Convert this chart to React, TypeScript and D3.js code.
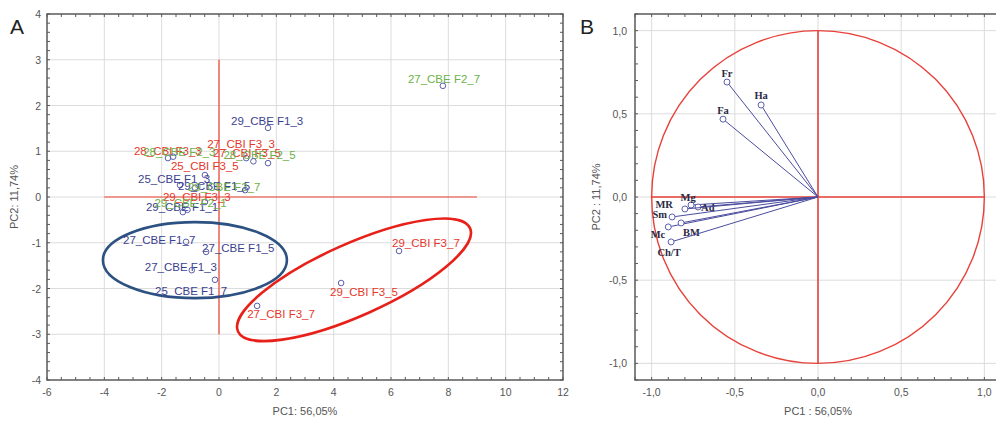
import * as d3 from "d3";

// ---- panel A: sample scores ----
const sampleNames = [
  "27_CBE F2_7", "29_CBE F1_3", "29_CBI F3_7", "29_CBI F3_5", "27_CBI F3_7",
  "25_CBE F1_7", "27_CBE F1_3", "27_CBE F1_7", "27_CBE F1_5",
  "28_CBI F3_3", "28_CBE F2_3", "27_CBI F3_3", "27_CBI F3_5", "28_CBE F2_5",
  "25_CBI F3_5", "25_CBE F1_3", "29_CBE F1_5", "29_CBE F2_7", "29_CBI F3_3",
  "29_CBE F1_1", "29_CBE F2_1",
];
const pc1Scores = [
  7.81, 1.71, 6.28, 4.26, 1.33,
  -0.14, -0.95, -1.15, -0.45,
  -1.78, -1.6, 0.95, 1.71, 1.2,
  -0.49, -1.36, -0.84, 0.91, -0.49,
  -1.26, -1.1,
];
const pc2Scores = [
  2.43, 1.51, -1.18, -1.88, -2.38,
  -1.81, -1.6, -0.98, -1.2,
  0.85, 0.88, 0.85, 0.74, 0.78,
  0.48, 0.26, 0.2, 0.15, -0.11,
  -0.33, -0.28,
];
const sampleGroups = [
  "F2", "CBE", "CBI", "CBI", "CBI",
  "CBE", "CBE", "CBE", "CBE",
  "CBI", "F2", "CBI", "CBI", "F2",
  "CBI", "CBE", "CBE", "F2", "CBI",
  "CBE", "F2",
];
const xTicksA = [-6, -4, -2, 0, 2, 4, 6, 8, 10, 12];
const yTicksA = [-4, -3, -2, -1, 0, 1, 2, 3, 4];

// ---- panel B: variable loadings ----
const variableNames = ["Fr", "Ha", "Fa", "Mg", "Ad", "MR", "Sm", "Mc", "BM", "Ch/T"];
const load1 = [-0.547, -0.342, -0.571, -0.763, -0.721, -0.8, -0.877, -0.9, -0.823, -0.883];
const load2 = [0.691, 0.553, 0.468, -0.048, -0.06, -0.072, -0.12, -0.18, -0.156, -0.27];
const ticksB = [-1, -0.5, 0, 0.5, 1];
const tickLabelsB = ["-1,0", "-0,5", "0,0", "0,5", "1,0"];

// label placement (px offsets from marker)
const sampleLabelOffsets: [number, number][] = [
  [-35, -3], [-37, -3], [-7, -4], [-11, 13], [-10, 12],
  [-60, 15], [-47, 1], [-63, 2], [-4, 0],
  [-34, -3], [-30, -1], [-39, -10], [-55, -6], [-30, -2],
  [-34, -5], [-42, -2], [-17, 2], [-57, 1], [-42, -1],
  [-37, -1], [-33, -3],
];
const varLabelPos: [number, number, string][] = [
  [0, -5, "middle"], [0, -6, "middle"], [0, -5, "middle"], [-3, -4, "middle"],
  [3, 4, "start"], [-12, -1, "end"], [-5, 1, "end"], [-3, 11, "end"],
  [2, 13, "start"], [-2, 14, "middle"],
];

const groupColor: Record<string, string> = { CBE: "#3b3f8f", CBI: "#e5372c", F2: "#6cb24a" };
const gridCol = "#dcdcdc";
const frameCol = "#5a5a5a";
const tickFont = "Liberation Sans, Arial, sans-serif";

export default function App() {
  const W = 996, H = 426;

  const xA = d3.scaleLinear().domain([-6, 12]).range([47, 563]);
  const yA = d3.scaleLinear().domain([-4, 4]).range([380, 14]);

  const xB = d3.scaleLinear().domain([-1.1, 1.1]).range([635, 1001]);
  const yB = d3.scaleLinear().domain([-1.1, 1.1]).range([380, 14]);
  const unitB = xB(1) - xB(0);

  const minorA_x = d3.range(-6, 12.01, 0.5);
  const minorA_y = d3.range(-4, 4.01, 0.2);
  const minorB = d3.range(-1.1, 1.101, 0.1);

  const redEllipse = { cx: 4.71, cy: -1.81 };
  const blueEllipse = { cx: -0.84, cy: -1.38 };

  return (
    <svg width={W} height={H} style={{ position: "absolute", left: 0, top: 0, background: "#fff" }}>
      <rect width={W} height={H} fill="#fff" />

      {/* ===== Panel A ===== */}
      <text x={10} y={34} fontSize={21} fontFamily={tickFont} fill="#222">A</text>
      {xTicksA.slice(1, -1).map((t) => (
        <line key={"gx" + t} x1={xA(t)} x2={xA(t)} y1={yA(4)} y2={yA(-4)} stroke={gridCol} />
      ))}
      {yTicksA.slice(1, -1).map((t) => (
        <line key={"gy" + t} x1={xA(-6)} x2={xA(12)} y1={yA(t)} y2={yA(t)} stroke={gridCol} />
      ))}
      {/* reference lines */}
      <line x1={xA(-4)} x2={xA(9)} y1={yA(0)} y2={yA(0)} stroke="#ee4433" strokeWidth={1.2} />
      <line x1={xA(0)} x2={xA(0)} y1={yA(3)} y2={yA(-3)} stroke="#ee4433" strokeWidth={1.2} />

      {/* group ellipses */}
      <ellipse cx={xA(blueEllipse.cx)} cy={yA(blueEllipse.cy)} rx={92} ry={38}
        fill="none" stroke="#2d5282" strokeWidth={2.6} />
      <ellipse cx={xA(redEllipse.cx)} cy={yA(redEllipse.cy)} rx={127} ry={36}
        transform={`rotate(-24 ${xA(redEllipse.cx)} ${yA(redEllipse.cy)})`}
        fill="none" stroke="#e8201a" strokeWidth={2.6} />

      {/* markers and labels */}
      {sampleNames.map((n, i) => {
        const px = xA(pc1Scores[i]);
        const py = yA(pc2Scores[i]);
        const [dx, dy] = sampleLabelOffsets[i];
        return (
          <g key={n}>
            <text x={px + dx} y={py + dy} fontSize={11.5} fontFamily={tickFont}
              fill={groupColor[sampleGroups[i]]}>{n}</text>
            <circle cx={px} cy={py} r={2.8} fill="none" stroke="#5a5fae" strokeWidth={1} />
          </g>
        );
      })}

      {/* frame and ticks */}
      <rect x={xA(-6)} y={yA(4)} width={xA(12) - xA(-6)} height={yA(-4) - yA(4)}
        fill="none" stroke={frameCol} strokeWidth={1.5} />
      {minorA_x.map((t, i) => (
        <g key={"mx" + i}>
          <line x1={xA(t)} x2={xA(t)} y1={yA(-4)} y2={yA(-4) - 3} stroke={frameCol} />
          <line x1={xA(t)} x2={xA(t)} y1={yA(4)} y2={yA(4) + 3} stroke={frameCol} />
        </g>
      ))}
      {minorA_y.map((t, i) => (
        <g key={"my" + i}>
          <line x1={xA(-6)} x2={xA(-6) + 3} y1={yA(t)} y2={yA(t)} stroke={frameCol} />
          <line x1={xA(12)} x2={xA(12) - 3} y1={yA(t)} y2={yA(t)} stroke={frameCol} />
        </g>
      ))}
      {xTicksA.map((t) => (
        <text key={"tx" + t} x={xA(t)} y={396} fontSize={10.5} textAnchor="middle"
          fontFamily={tickFont} fill="#555">{t}</text>
      ))}
      {yTicksA.map((t) => (
        <text key={"ty" + t} x={41} y={yA(t) + 4} fontSize={10.5} textAnchor="end"
          fontFamily={tickFont} fill="#555">{t}</text>
      ))}
      <text x={305} y={415} fontSize={11} textAnchor="middle" fontFamily={tickFont} fill="#555">
        PC1: 56,05%
      </text>
      <text transform={`translate(18 ${yA(0)}) rotate(-90)`} fontSize={11} textAnchor="middle"
        fontFamily={tickFont} fill="#555">PC2: 11,74%</text>

      {/* ===== Panel B ===== */}
      <text x={580} y={34} fontSize={21} fontFamily={tickFont} fill="#222">B</text>
      {ticksB.map((t) => (
        <g key={"gb" + t}>
          <line x1={xB(t)} x2={xB(t)} y1={yB(1.1)} y2={yB(-1.1)} stroke={gridCol} />
          <line x1={xB(-1.1)} x2={xB(1.1)} y1={yB(t)} y2={yB(t)} stroke={gridCol} />
        </g>
      ))}
      <circle cx={xB(0)} cy={yB(0)} r={unitB} fill="none" stroke="#e8413a" strokeWidth={1.4} />
      <line x1={xB(-1)} x2={xB(1)} y1={yB(0)} y2={yB(0)} stroke="#e8413a" strokeWidth={1.6} />
      <line x1={xB(0)} x2={xB(0)} y1={yB(1)} y2={yB(-1)} stroke="#e8413a" strokeWidth={1.6} />

      {variableNames.map((n, i) => {
        const px = xB(load1[i]);
        const py = yB(load2[i]);
        const [dx, dy, anchor] = varLabelPos[i];
        return (
          <g key={n}>
            <line x1={xB(0)} y1={yB(0)} x2={px} y2={py} stroke="#4a4c9e" strokeWidth={1} />
            <circle cx={px} cy={py} r={3} fill="#fff" stroke="#5a5fae" strokeWidth={1} />
            <text x={px + dx} y={py + dy} fontSize={10.5} fontWeight="bold" textAnchor={anchor}
              fontFamily="Liberation Serif, Times New Roman, serif" fill="#2a2a44">{n}</text>
          </g>
        );
      })}

      <rect x={xB(-1.1)} y={yB(1.1)} width={xB(1.1) - xB(-1.1)} height={yB(-1.1) - yB(1.1)}
        fill="none" stroke={frameCol} strokeWidth={1.5} />
      {minorB.map((t, i) => (
        <g key={"mb" + i}>
          <line x1={xB(t)} x2={xB(t)} y1={yB(-1.1)} y2={yB(-1.1) - 3} stroke={frameCol} />
          <line x1={xB(t)} x2={xB(t)} y1={yB(1.1)} y2={yB(1.1) + 3} stroke={frameCol} />
          <line x1={xB(-1.1)} x2={xB(-1.1) + 3} y1={yB(t)} y2={yB(t)} stroke={frameCol} />
        </g>
      ))}
      {ticksB.map((t, i) => (
        <g key={"tb" + t}>
          <text x={xB(t)} y={396} fontSize={10.5} textAnchor="middle" fontFamily={tickFont}
            fill="#555">{tickLabelsB[i]}</text>
          <text x={627} y={yB(t) + 4} fontSize={10.5} textAnchor="end" fontFamily={tickFont}
            fill="#555">{tickLabelsB[i]}</text>
        </g>
      ))}
      <text x={xB(0)} y={415} fontSize={11} textAnchor="middle" fontFamily={tickFont} fill="#555">
        PC1 : 56,05%
      </text>
      <text transform={`translate(600 ${yB(0)}) rotate(-90)`} fontSize={11} textAnchor="middle"
        fontFamily={tickFont} fill="#555">PC2 : 11,74%</text>
    </svg>
  );
}
